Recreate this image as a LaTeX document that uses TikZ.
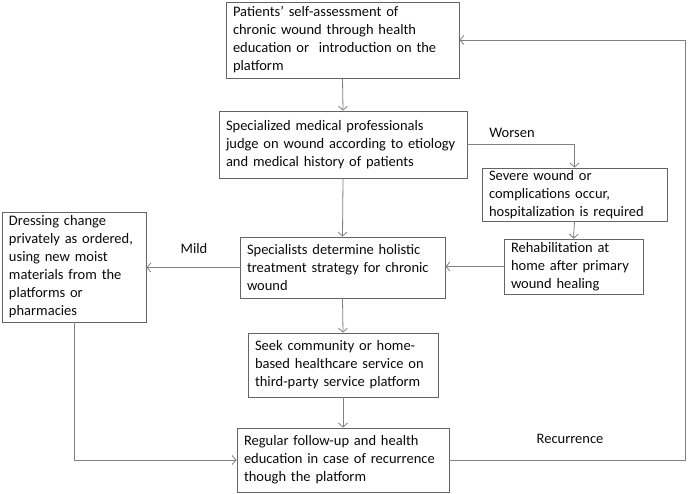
\documentclass[tikz,border=0pt]{standalone}
\usepackage{fontspec}
\setmainfont{Carlito}
\usetikzlibrary{arrows.meta}
\definecolor{boxline}{RGB}{100,100,100}
\definecolor{conn}{RGB}{128,128,128}
\definecolor{txt}{RGB}{10,10,10}
\begin{document}
\begin{tikzpicture}[x=1pt,y=-1pt,
  box/.style={draw=boxline, line width=0.8pt, inner xsep=7pt, inner ysep=0pt,
    align=left, text=txt, font=\fontsize{14.5}{18}\selectfont},
  conn/.style={draw=conn, line width=0.8pt, -{Straight Barb[length=4pt,width=9pt]}},
  lbl/.style={text=txt, font=\fontsize{14.5}{18}\selectfont}]
\useasboundingbox (0,0) rectangle (688,494);

\node[box, minimum width=233pt, minimum height=76pt, text width=219pt] (b1) at (342.5,40)
  {\mbox{Patients’ self-assessment of}\\\mbox{chronic wound through health}\\\mbox{education or \ introduction on the}\\platform};
\node[box, minimum width=248pt, minimum height=67pt, text width=234pt] (b2) at (343,144.5)
  {\mbox{Specialized medical professionals}\\\mbox{judge on wound according to etiology}\\\mbox{and medical history of patients}};
\node[box, minimum width=185pt, minimum height=53pt, text width=171pt] (b3) at (574.5,194.5)
  {\mbox{Severe wound or}\\\mbox{complications occur,}\\\mbox{hospitalization is required}};
\node[box, minimum width=139pt, minimum height=55pt, text width=125pt] (b4) at (573.5,266.5)
  {\mbox{Rehabilitation at}\\\mbox{home after primary}\\\mbox{wound healing}};
\node[box, minimum width=205pt, minimum height=61pt, text width=191pt] (b5) at (342.5,267.5)
  {\mbox{Specialists determine holistic}\\\mbox{treatment strategy for chronic}\\wound};
\node[box, minimum width=144pt, minimum height=110pt, text width=130pt] (b6) at (74,267)
  {\mbox{Dressing change}\\\mbox{privately as ordered,}\\\mbox{using new moist}\\\mbox{materials from the}\\\mbox{platforms or}\\pharmacies};
\node[box, minimum width=190pt, minimum height=64pt, text width=176pt] (b7) at (343,365)
  {\mbox{Seek community or home-}\\\mbox{based healthcare service on}\\\mbox{third-party service platform}};
\node[box, minimum width=212pt, minimum height=64pt, text width=198pt] (b8) at (343,460)
  {\mbox{Regular follow-up and health}\\\mbox{education in case of recurrence}\\\mbox{though the platform}};

\coordinate (r) at (685,40);

\draw[conn] (b1.south) -- (b2.north);
\draw[conn] (b2.east) -| (b3.north);
\draw[conn] (b3.south) -- (b4.north);
\draw[conn] (b4.west) -- (b4.west -| b5.east);
\draw[conn] (b2.south) -- (b5.north);
\draw[conn] (b5.west) -- (b5.west -| b6.east);
\draw[conn] (b5.south) -- (b7.north);
\draw[conn] (b7.south) -- (b8.north);
\draw[conn] (b6.south) |- (b8.west);
\draw[conn] (b8.east) -| (r) -- (b1.east);

\node[lbl] (lw) at (512,133) {Worsen};
\node[lbl] (lm) at (194,249) {Mild};
\node[lbl] (lr) at (570,439) {Recurrence};
\end{tikzpicture}
\end{document}
